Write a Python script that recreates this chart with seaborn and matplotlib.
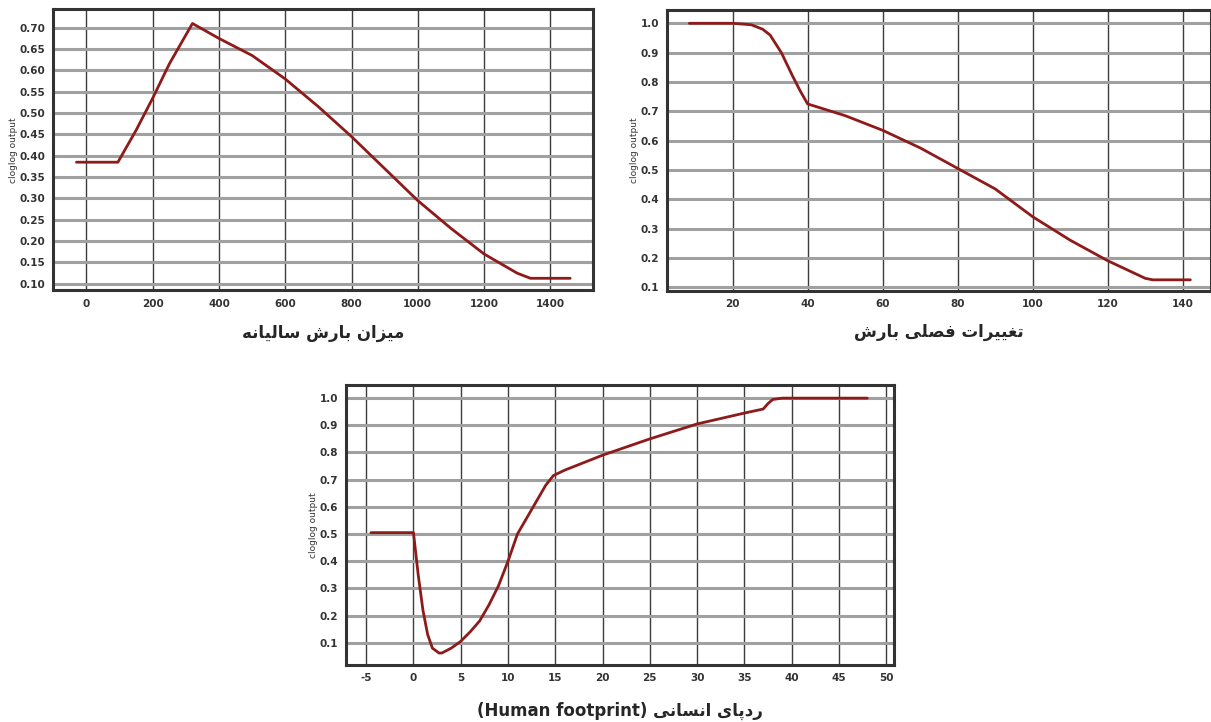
import numpy as np
import pandas as pd
import matplotlib
matplotlib.use("Agg")
import matplotlib.pyplot as plt
import seaborn as sns

# ---- داده‌ها (خوانده شده از تصویر) ----
rain_x = [-30, 95, 150, 200, 250, 320, 400, 500, 600, 700, 800, 900, 1000, 1100, 1200, 1300, 1340, 1460]
rain_y = [0.385, 0.385, 0.46, 0.535, 0.615, 0.71, 0.675, 0.635, 0.58, 0.515, 0.445, 0.37, 0.295, 0.23, 0.17, 0.125, 0.113, 0.113]

season_x = [8.5, 20, 25, 28, 30, 33, 36, 38, 40, 45, 50, 60, 70, 80, 90, 100, 110, 120, 130, 132, 142]
season_y = [1.0, 1.0, 0.995, 0.98, 0.96, 0.9, 0.82, 0.77, 0.725, 0.705, 0.685, 0.635, 0.575, 0.505, 0.435, 0.34, 0.26, 0.19, 0.13, 0.125, 0.125]

human_x = [-4.5, 0, 0.5, 1, 1.5, 2, 2.7, 3, 4, 5, 6, 7, 8, 9, 10, 10.7, 11, 12, 13, 14, 14.8,
           16, 20, 25, 30, 35, 37, 37.5, 38, 39, 48]
human_y = [0.505, 0.505, 0.35, 0.22, 0.13, 0.08, 0.062, 0.062, 0.08, 0.105, 0.14, 0.18, 0.24, 0.31, 0.4, 0.47,
           0.5, 0.56, 0.62, 0.68, 0.715, 0.735, 0.79, 0.85, 0.905, 0.945, 0.96, 0.98, 0.995, 1.0, 1.0]

rain_xticks = [0, 200, 400, 600, 800, 1000, 1200, 1400]
rain_yticks = [0.10, 0.15, 0.20, 0.25, 0.30, 0.35, 0.40, 0.45, 0.50, 0.55, 0.60, 0.65, 0.70]
season_xticks = [20, 40, 60, 80, 100, 120, 140]
unit_yticks = [0.1, 0.2, 0.3, 0.4, 0.5, 0.6, 0.7, 0.8, 0.9, 1.0]
human_xticks = [-5, 0, 5, 10, 15, 20, 25, 30, 35, 40, 45, 50]

label_rain = "میزان بارش سالیانه"
label_season = "تغییرات فصلی بارش"
label_human = "ردپای انسانی"

# ---- شکل‌دهی ساده حروف فارسی (بدون arabic_reshaper) ----
FORMS = {
    'ا': ('\uFE8D', '\uFE8E', None, None),
    'ب': ('\uFE8F', '\uFE90', '\uFE91', '\uFE92'),
    'پ': ('\uFB56', '\uFB57', '\uFB58', '\uFB59'),
    'ت': ('\uFE95', '\uFE96', '\uFE97', '\uFE98'),
    'د': ('\uFEA9', '\uFEAA', None, None),
    'ر': ('\uFEAD', '\uFEAE', None, None),
    'ز': ('\uFEAF', '\uFEB0', None, None),
    'س': ('\uFEB1', '\uFEB2', '\uFEB3', '\uFEB4'),
    'ش': ('\uFEB5', '\uFEB6', '\uFEB7', '\uFEB8'),
    'ص': ('\uFEB9', '\uFEBA', '\uFEBB', '\uFEBC'),
    'غ': ('\uFECD', '\uFECE', '\uFECF', '\uFED0'),
    'ف': ('\uFED1', '\uFED2', '\uFED3', '\uFED4'),
    'ل': ('\uFEDD', '\uFEDE', '\uFEDF', '\uFEE0'),
    'م': ('\uFEE1', '\uFEE2', '\uFEE3', '\uFEE4'),
    'ن': ('\uFEE5', '\uFEE6', '\uFEE7', '\uFEE8'),
    'ه': ('\uFEE9', '\uFEEA', '\uFEEB', '\uFEEC'),
    'ی': ('\uFBFC', '\uFBFD', '\uFBFE', '\uFBFF'),
}


def shape(text):
    chars = list(text)
    out = []
    for i, c in enumerate(chars):
        if c not in FORMS:
            out.append(c)
            continue
        iso, fin, ini, med = FORMS[c]
        prev = chars[i - 1] if i > 0 else None
        nxt = chars[i + 1] if i + 1 < len(chars) else None
        join_prev = prev in FORMS and FORMS[prev][2] is not None
        join_next = nxt in FORMS and ini is not None
        if join_prev and join_next:
            out.append(med)
        elif join_prev:
            out.append(fin)
        elif join_next:
            out.append(ini)
        else:
            out.append(iso)
    return ''.join(reversed(out))


sns.set_style("white")
plt.rcParams['font.family'] = ['DejaVu Sans']
plt.rcParams['axes.unicode_minus'] = False

LINE = "#8e1a1a"

fig = plt.figure(figsize=(12.11, 7.22), dpi=100)
ax1 = fig.add_axes([0.044, 0.598, 0.446, 0.389])
ax2 = fig.add_axes([0.551, 0.597, 0.449, 0.389])
ax3 = fig.add_axes([0.286, 0.079, 0.452, 0.388])


def style(ax, xticks, yticks, xlim, ylim, yfmt):
    ax.set_xlim(*xlim)
    ax.set_ylim(*ylim)
    ax.set_xticks(xticks)
    ax.set_yticks(yticks)
    ax.set_yticklabels([yfmt % v for v in yticks])
    ax.grid(axis='y', color='#a0a0a0', lw=2.2)
    ax.grid(axis='x', color='#3c3c3c', lw=1.0)
    ax.set_axisbelow(True)
    for s in ax.spines.values():
        s.set_color('#333333')
        s.set_linewidth(2.2)
    ax.tick_params(length=0, pad=6, labelsize=7.5, colors='#333333')
    for lbl in ax.get_xticklabels() + ax.get_yticklabels():
        lbl.set_fontweight('bold')
    ax.set_ylabel('cloglog output', fontsize=6.5, labelpad=1, color='#333333')


df1 = pd.DataFrame({'x': rain_x, 'y': rain_y})
df2 = pd.DataFrame({'x': season_x, 'y': season_y})
df3 = pd.DataFrame({'x': human_x, 'y': human_y})

sns.lineplot(data=df1, x='x', y='y', ax=ax1, color=LINE, lw=2.0)
sns.lineplot(data=df2, x='x', y='y', ax=ax2, color=LINE, lw=2.0)
sns.lineplot(data=df3, x='x', y='y', ax=ax3, color=LINE, lw=2.0)

style(ax1, rain_xticks, rain_yticks, (-100, 1530), (0.085, 0.743), '%.2f')
style(ax2, season_xticks, unit_yticks, (2.6, 147.5), (0.087, 1.045), '%.1f')
style(ax3, human_xticks, unit_yticks, (-7.1, 50.8), (0.018, 1.049), '%.1f')

ax1.set_xlabel(shape(label_rain), fontsize=12, fontweight='bold', labelpad=11)
ax2.set_xlabel(shape(label_season), fontsize=12, fontweight='bold', labelpad=10)
ax3.set_xlabel('(Human footprint) ' + shape(label_human), fontsize=12, fontweight='bold', labelpad=13)

fig.savefig('out.png', dpi=100, facecolor='white')
